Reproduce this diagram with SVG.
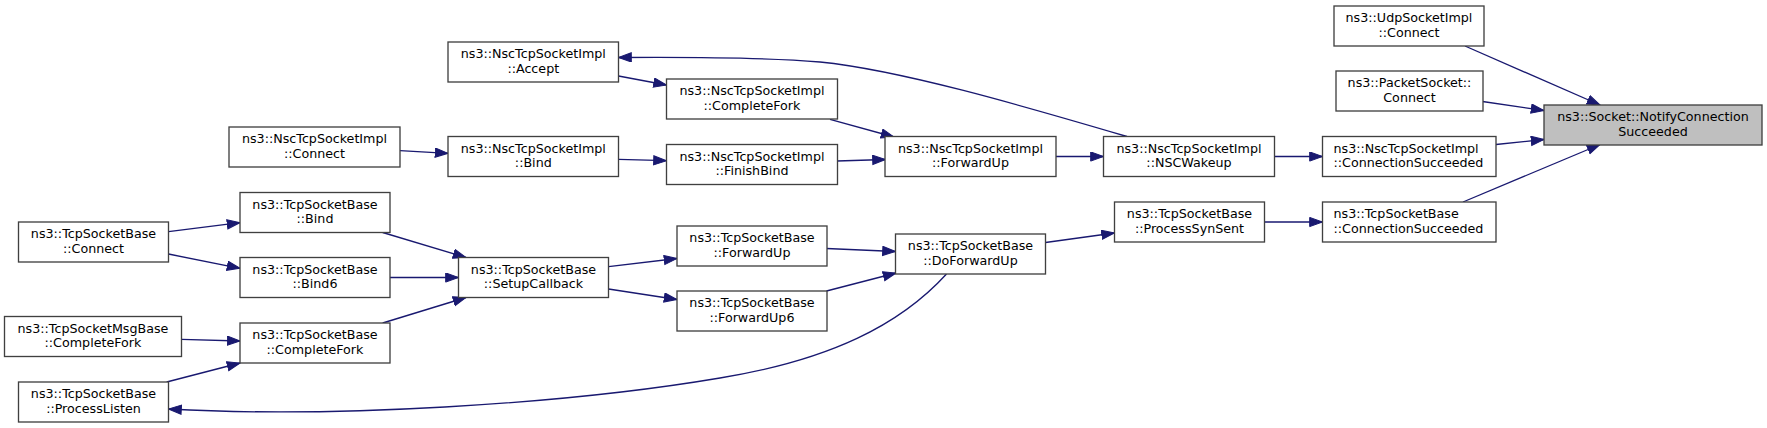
<svg xmlns="http://www.w3.org/2000/svg" width="1767" height="428" viewBox="0 0 1767 428">
<style>
.n rect{fill:#ffffff;stroke:#404040;stroke-width:1.33}
.n.root rect{fill:#bfbfbf}
.n text{font-family:"DejaVu Sans","Liberation Sans",sans-serif;font-size:12.7px;fill:#000000;text-anchor:middle}
.n text.l{text-anchor:start}
.e path{fill:none;stroke:#191970;stroke-width:1.33;marker-end:url(#arr)}
</style>
<defs>
<marker id="arr" markerUnits="userSpaceOnUse" markerWidth="16" markerHeight="12" refX="13.3" refY="5" orient="auto">
<path d="M0.5,0.4 L13.3,5 L0.5,9.6 z" fill="#191970" stroke="#191970" stroke-width="1"/>
</marker>
</defs>
<rect width="1767" height="428" fill="#ffffff"/>
<g id="edges" class="e">
<path d="M1465,46 L1600,105"/>
<path d="M1482.5,101.5 L1544,110.5"/>
<path d="M1496,144.5 L1544,139.5"/>
<path d="M1463,202 L1600,144.5"/>
<path d="M1275,156.5 L1322.5,156.5"/>
<path d="M1264.5,222 L1322.5,222"/>
<path d="M1056,156.5 L1103.5,156.5"/>
<path d="M1127,136.5 C1020,105 900,70 820,62 C760,57 690,57 618.5,57.5"/>
<path d="M1045.5,242.5 L1114.5,233"/>
<path d="M830,119.3 L894,137"/>
<path d="M837,161 L885.5,159.5"/>
<path d="M826.5,248.5 L895.5,251.5"/>
<path d="M826.5,291 L896,273"/>
<path d="M946.5,274 C900,325 830,360 720,378 C560,405 330,418 168.5,409"/>
<path d="M618.5,76 L666.5,85"/>
<path d="M618.5,159.3 L666.5,160.7"/>
<path d="M608.5,266.7 L677,258.5"/>
<path d="M608.5,289 L677,299.5"/>
<path d="M400,150.7 L448,153.3"/>
<path d="M382.7,232.5 L466,257.5"/>
<path d="M390,277.5 L458.5,277.5"/>
<path d="M382.7,323 L466,297.5"/>
<path d="M168.5,231.7 L240,222.7"/>
<path d="M168.5,254 L240,268.3"/>
<path d="M181.5,339.3 L240,341"/>
<path d="M166.7,382 L240,363"/>
</g>
<g id="n_udp" class="n"><rect x="1334" y="6" width="150" height="40"/><text x="1409" y="22">ns3::UdpSocketImpl</text><text x="1409" y="36.5">::Connect</text></g>
<g id="n_packet" class="n"><rect x="1336" y="71" width="147" height="40"/><text x="1409.5" y="87">ns3::PacketSocket::</text><text x="1409.5" y="101.5">Connect</text></g>
<g id="n_notify" class="n root"><rect x="1544" y="105" width="218" height="40"/><text x="1653" y="121">ns3::Socket::NotifyConnection</text><text x="1653" y="135.5">Succeeded</text></g>
<g id="n_nsc_connsucc" class="n"><rect x="1322.5" y="136.5" width="173.5" height="40"/><text class="l" x="1333.5" y="152.5">ns3::NscTcpSocketImpl</text><text class="l" x="1333.5" y="167">::ConnectionSucceeded</text></g>
<g id="n_tcp_connsucc" class="n"><rect x="1322.5" y="202" width="173.5" height="40"/><text class="l" x="1333.5" y="218">ns3::TcpSocketBase</text><text class="l" x="1333.5" y="232.5">::ConnectionSucceeded</text></g>
<g id="n_nscwakeup" class="n"><rect x="1103.5" y="136.5" width="171" height="40"/><text x="1189" y="152.5">ns3::NscTcpSocketImpl</text><text x="1189" y="167">::NSCWakeup</text></g>
<g id="n_processsynsent" class="n"><rect x="1114.5" y="202" width="150" height="40"/><text x="1189.5" y="218">ns3::TcpSocketBase</text><text x="1189.5" y="232.5">::ProcessSynSent</text></g>
<g id="n_nsc_forwardup" class="n"><rect x="885" y="136.5" width="171" height="40"/><text x="970.5" y="152.5">ns3::NscTcpSocketImpl</text><text x="970.5" y="167">::ForwardUp</text></g>
<g id="n_doforwardup" class="n"><rect x="895.5" y="234" width="150" height="40"/><text x="970.5" y="250">ns3::TcpSocketBase</text><text x="970.5" y="264.5">::DoForwardUp</text></g>
<g id="n_nsc_completefork" class="n"><rect x="666.5" y="79" width="171" height="40"/><text x="752" y="95">ns3::NscTcpSocketImpl</text><text x="752" y="109.5">::CompleteFork</text></g>
<g id="n_finishbind" class="n"><rect x="666.5" y="144.5" width="171" height="40"/><text x="752" y="160.5">ns3::NscTcpSocketImpl</text><text x="752" y="175">::FinishBind</text></g>
<g id="n_tcp_forwardup" class="n"><rect x="677" y="226" width="150" height="40"/><text x="752" y="242">ns3::TcpSocketBase</text><text x="752" y="256.5">::ForwardUp</text></g>
<g id="n_forwardup6" class="n"><rect x="677" y="291" width="150" height="40"/><text x="752" y="307">ns3::TcpSocketBase</text><text x="752" y="321.5">::ForwardUp6</text></g>
<g id="n_accept" class="n"><rect x="448" y="42" width="170.5" height="40"/><text x="533.3" y="58">ns3::NscTcpSocketImpl</text><text x="533.3" y="72.5">::Accept</text></g>
<g id="n_nsc_bind" class="n"><rect x="448" y="136.5" width="170.5" height="40"/><text x="533.3" y="152.5">ns3::NscTcpSocketImpl</text><text x="533.3" y="167">::Bind</text></g>
<g id="n_setupcallback" class="n"><rect x="458.5" y="257.5" width="150" height="40"/><text x="533.5" y="273.5">ns3::TcpSocketBase</text><text x="533.5" y="288">::SetupCallback</text></g>
<g id="n_nsc_connect" class="n"><rect x="229" y="127" width="171" height="40"/><text x="314.5" y="143">ns3::NscTcpSocketImpl</text><text x="314.5" y="157.5">::Connect</text></g>
<g id="n_tcp_bind" class="n"><rect x="240" y="192.5" width="150" height="40"/><text x="315" y="208.5">ns3::TcpSocketBase</text><text x="315" y="223">::Bind</text></g>
<g id="n_bind6" class="n"><rect x="240" y="257.5" width="150" height="40"/><text x="315" y="273.5">ns3::TcpSocketBase</text><text x="315" y="288">::Bind6</text></g>
<g id="n_tcp_completefork" class="n"><rect x="240" y="323" width="150" height="40"/><text x="315" y="339">ns3::TcpSocketBase</text><text x="315" y="353.5">::CompleteFork</text></g>
<g id="n_tcp_connect" class="n"><rect x="18.5" y="222" width="150" height="40"/><text x="93.5" y="238">ns3::TcpSocketBase</text><text x="93.5" y="252.5">::Connect</text></g>
<g id="n_msg_completefork" class="n"><rect x="4.5" y="316.5" width="177" height="40"/><text x="93" y="332.5">ns3::TcpSocketMsgBase</text><text x="93" y="347">::CompleteFork</text></g>
<g id="n_processlisten" class="n"><rect x="18.5" y="382" width="150" height="40"/><text x="93.5" y="398">ns3::TcpSocketBase</text><text x="93.5" y="412.5">::ProcessListen</text></g>
</svg>
